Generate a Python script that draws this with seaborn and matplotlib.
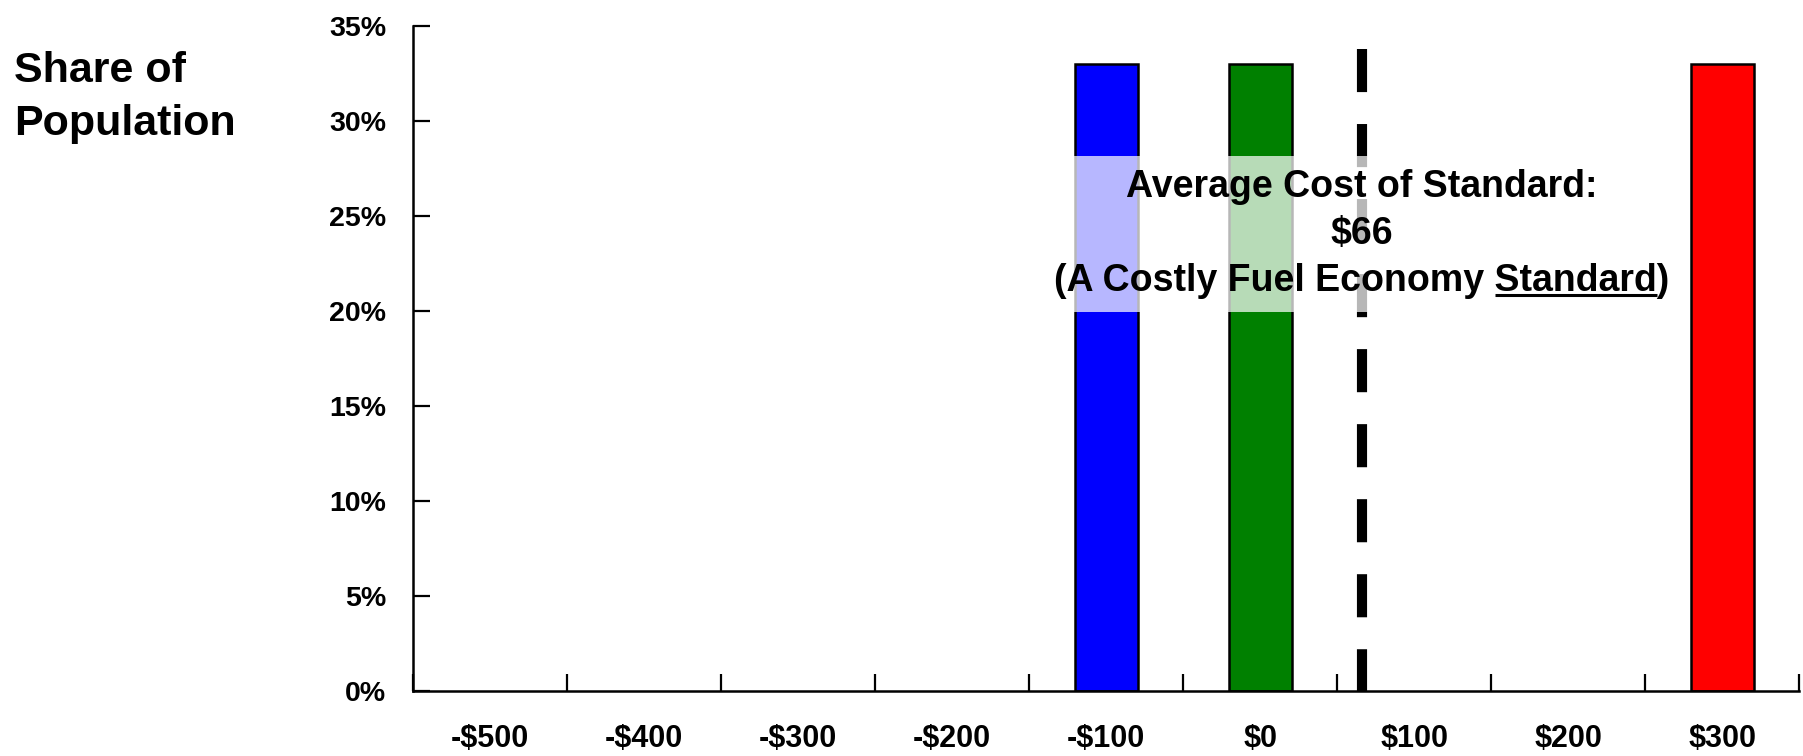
import numpy as np
import pandas as pd
import matplotlib
matplotlib.use("Agg")
import matplotlib.pyplot as plt
import seaborn as sns
from matplotlib.font_manager import FontProperties

# Net cost categories along the horizontal axis (one bin per $100)
cost_labels = ["-$500", "-$400", "-$300", "-$200", "-$100", "$0", "$100", "$200", "$300"]

# Population groups and their share
bar_costs = ["-$100", "$0", "$300"]
bar_shares = [0.33, 0.33, 0.33]
bar_colors = ["#0000FF", "#008000", "#FF0000"]

# Average cost of the standard (dollars) and height of its marker line
average_cost = 66
average_line_top = 0.338

y_ticks = [0.00, 0.05, 0.10, 0.15, 0.20, 0.25, 0.30, 0.35]

sns.set_theme(style="white")
plt.rcParams["font.family"] = ["Liberation Sans", "DejaVu Sans"]
plt.rcParams["font.weight"] = "bold"
plt.rcParams["text.color"] = "black"
plt.rcParams["xtick.color"] = "black"
plt.rcParams["ytick.color"] = "black"
plt.rcParams["axes.labelcolor"] = "black"

fig = plt.figure(figsize=(18.03, 7.56), dpi=100)
ax = fig.add_axes([0.229, 0.086, 0.769, 0.8796])

df = pd.DataFrame({"cost": bar_costs, "share": bar_shares})
sns.barplot(data=df, x="cost", y="share", order=cost_labels,
            hue="cost", hue_order=bar_costs, palette=bar_colors,
            saturation=1, width=0.41, edgecolor="black", linewidth=1.8,
            legend=False, ax=ax, zorder=2)

# Average-cost marker: $0 bin centre plus the fraction of a $100 bin
x_avg = cost_labels.index("$0") + average_cost / 100
ax.plot([x_avg, x_avg], [average_line_top, 0], color="black", lw=7.3,
        dashes=(4.25, 3.15), dash_capstyle="butt", zorder=3)

ax.set_xlim(-0.5, len(cost_labels) - 0.5)
ax.set_ylim(0, 0.35)

# Category labels centred in bins, tick marks on bin boundaries
ax.set_xticks(range(len(cost_labels)))
ax.set_xticklabels(cost_labels, fontweight="bold")
ax.set_xticks(np.arange(-0.5, len(cost_labels), 1.0), minor=True)
ax.tick_params(axis="x", which="major", length=0, pad=24, labelsize=22)
ax.tick_params(axis="x", which="minor", length=12, width=1.6,
               direction="in", color="black", bottom=True)

ax.set_yticks(y_ticks)
ax.set_yticklabels([f"{int(round(v * 100))}%" for v in y_ticks], fontweight="bold")
ax.tick_params(axis="y", which="major", length=12, width=1.6, direction="in",
               color="black", pad=19, labelsize=20.5, left=True)

for side in ["top", "right"]:
    ax.spines[side].set_visible(False)
for side in ["left", "bottom"]:
    ax.spines[side].set_color("black")
    ax.spines[side].set_linewidth(1.8)
ax.grid(False)

ax.set_xlabel("")
ax.set_ylabel("Share of\nPopulation", rotation=0, ha="left", va="top",
              fontsize=31, fontweight="bold", linespacing=1.42, color="black")
ax.yaxis.set_label_coords(-0.2877, 0.962)

line3 = "(A Costly Fuel Economy Standard)"
note = f"Average Cost of Standard:\n${average_cost}\n{line3}"
txt = ax.text(x_avg, 0.2405, note, ha="center", va="center",
              multialignment="center", fontsize=27, fontweight="bold",
              color="black", linespacing=1.4, zorder=5,
              bbox=dict(boxstyle="square,pad=0.33", facecolor="white",
                        alpha=0.72, edgecolor="none"))

# Underline the word "Standard" on the last line of the note
fig.canvas.draw()
renderer = fig.canvas.get_renderer()
fp = FontProperties(family=["Liberation Sans", "DejaVu Sans"], weight="bold", size=27)
w_full, _, d_full = renderer.get_text_width_height_descent(line3, fp, ismath=False)
w_upto, _, _ = renderer.get_text_width_height_descent("(A Costly Fuel Economy Standard", fp, ismath=False)
w_word, _, _ = renderer.get_text_width_height_descent("Standard", fp, ismath=False)
ext = txt.get_window_extent(renderer)
cx = (ext.x0 + ext.x1) / 2
left = cx - w_full / 2
baseline = ext.y0 + d_full
uy = baseline - 4
inv = ax.transData.inverted()
(ux0, uy0), (ux1, _) = inv.transform([(left + w_upto - w_word, uy), (left + w_upto, uy)])
ax.plot([ux0, ux1], [uy0, uy0], color="black", lw=2.2, solid_capstyle="butt", zorder=6)

fig.savefig("out.png", dpi=100)
